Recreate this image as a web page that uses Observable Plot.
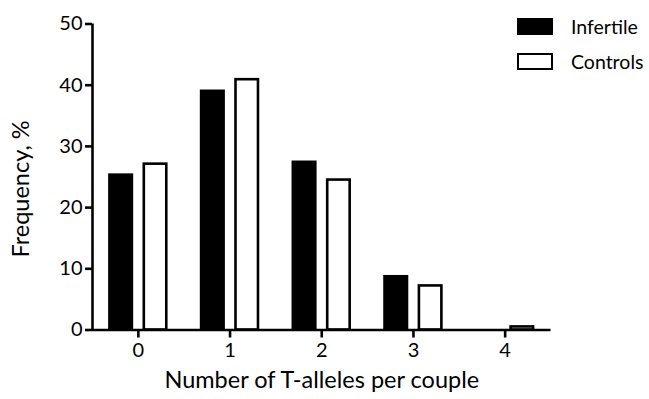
<!DOCTYPE html>
<html>
<head>
<meta charset="utf-8">
<script src="https://cdn.jsdelivr.net/npm/d3@7"></script>
<script src="https://cdn.jsdelivr.net/npm/@observablehq/plot@0.6"></script>
<style>
  html, body { margin: 0; padding: 0; background: #fff; }
  #wrap { position: relative; width: 649px; height: 399px; font-family: Lato, "Open Sans", sans-serif; }
  #legend { position: absolute; left: 517px; top: 9px; font-size: 19.5px; color: #000; }
  .item { display: flex; align-items: center; height: 35px; white-space: nowrap; }
  .sw { width: 32px; height: 13px; border: 2px solid #000; margin-right: 18px; box-sizing: content-box; }
</style>
</head>
<body>
<div id="wrap"><div id="legend"></div></div>
<script>
const categories = [0, 1, 2, 3, 4];
const seriesNames = ["Infertile", "Controls"];
const infertile = [25.3, 39.0, 27.4, 8.7, 0];
const controls = [27.1, 40.9, 24.5, 7.2, 0.5];
const yTicks = [0, 10, 20, 30, 40, 50];
const xLabel = "Number of T-alleles per couple";
const yLabel = "Frequency, %";
const fills = ["#000", "#fff"];

const data = [];
categories.forEach((c, i) => {
  data.push({cat: c, series: "Infertile", value: infertile[i]});
  data.push({cat: c, series: "Controls", value: controls[i]});
});

const inner = 0.065, outer = 0.31;
const sw = 2.6;

const chart = Plot.plot({
  width: 649,
  height: 399,
  marginLeft: 92,
  marginRight: 98.5,
  marginTop: 23.5,
  marginBottom: 69.5,
  style: {fontFamily: "Lato, 'Open Sans', sans-serif", background: "#fff", color: "#000"},
  x: {domain: [-0.5, 4.5]},
  y: {domain: [0, 50]},
  color: {domain: seriesNames, range: fills},
  marks: [
    Plot.rectY(data, {
      x1: d => d.cat + (d.series === "Infertile" ? -outer : inner),
      x2: d => d.cat + (d.series === "Infertile" ? -inner : outer),
      y1: 0,
      y2: "value",
      fill: "series",
      stroke: "#000",
      strokeWidth: sw
    }),
    Plot.ruleX([-0.5], {stroke: "#000", strokeWidth: sw}),
    Plot.ruleY([0], {stroke: "#000", strokeWidth: sw}),
    Plot.axisY({ticks: yTicks, tickSize: 7, tickPadding: 3, fontSize: 20, strokeWidth: sw, label: null}),
    Plot.axisX({ticks: categories, tickSize: 8, tickPadding: 5, fontSize: 20, strokeWidth: sw, label: null, tickFormat: d => String(d)}),
    Plot.text([yLabel], {frameAnchor: "left", textAnchor: "middle", dx: -71, dy: 12, rotate: -90, fontSize: 23.5, fill: "#000"}),
    Plot.text([xLabel], {frameAnchor: "bottom", dy: 41, fontSize: 23.5, fill: "#000", lineAnchor: "top"})
  ]
});
document.getElementById("wrap").prepend(chart);

const legend = document.getElementById("legend");
seriesNames.forEach((name, i) => {
  const item = document.createElement("div");
  item.className = "item";
  const s = document.createElement("span");
  s.className = "sw";
  s.style.background = fills[i];
  const t = document.createElement("span");
  t.textContent = name;
  item.append(s, t);
  legend.append(item);
});
</script>
</body>
</html>
